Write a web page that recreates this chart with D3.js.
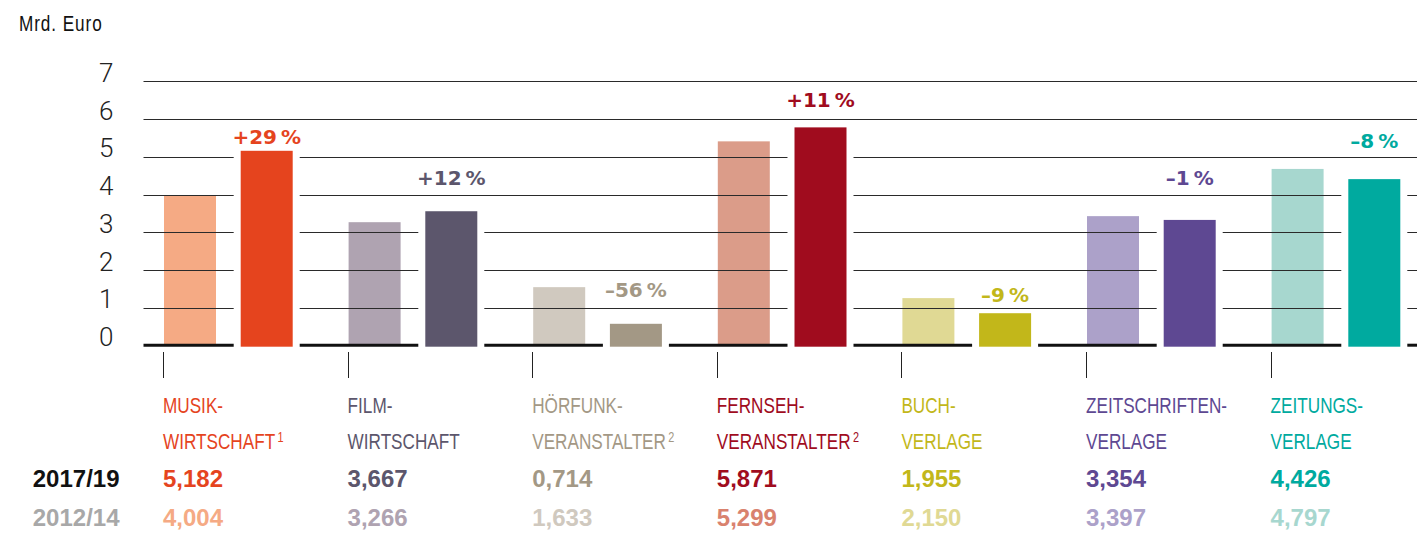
<!DOCTYPE html>
<html>
<head>
<meta charset="utf-8">
<script src="https://cdn.jsdelivr.net/npm/d3@7"></script>
<style>
  html, body { margin: 0; padding: 0; background: #fff; }
  svg { display: block; }
  .narrow { font-family: "Liberation Sans", Arial, sans-serif; }
  .tick { font-family: Roboto, "Liberation Sans", sans-serif; font-weight: 300; }
  .num { font-family: "Liberation Sans", Arial, sans-serif; font-weight: bold; }
  .pct { font-family: "DejaVu Sans", sans-serif; font-weight: bold; }
</style>
</head>
<body>
<svg id="chart" width="1417" height="534"></svg>
<script>
// ---- data ----
const categories = ["Musik", "Film", "Hörfunk", "Fernseh", "Buch", "Zeitschriften", "Zeitungen"];
const labelLine1 = ["MUSIK-", "FILM-", "HÖRFUNK-", "FERNSEH-", "BUCH-", "ZEITSCHRIFTEN-", "ZEITUNGS-"];
const labelLine2 = ["WIRTSCHAFT", "WIRTSCHAFT", "VERANSTALTER", "VERANSTALTER", "VERLAGE", "VERLAGE", "VERLAGE"];
const footnotes = ["1", "", "2", "2", "", "", ""];
const periods = ["2012/14", "2017/19"];
// printed values (Mrd. Euro)
const printed2017 = ["5,182", "3,667", "0,714", "5,871", "1,955", "3,354", "4,426"];
const printed2012 = ["4,004", "3,266", "1,633", "5,299", "2,150", "3,397", "4,797"];
// bar heights as drawn in the picture (Mrd. Euro)
const bars2012 = [3.99, 3.27, 1.55, 5.41, 1.26, 3.43, 4.68];
const bars2017 = [5.16, 3.56, 0.58, 5.78, 0.86, 3.33, 4.41];
const changeLabels = ["+29\u2009%", "+12\u2009%", "\u201356\u2009%", "+11\u2009%", "\u20139\u2009%", "\u20131\u2009%", "\u20138\u2009%"];
// level (Mrd. Euro) at which each change label sits in the picture
const changeLabelLevel = [5.34, 4.26, 1.30, 6.31, 1.17, 4.26, 5.23];
const yTicks = [0, 1, 2, 3, 4, 5, 6, 7];
const unitLabel = "Mrd. Euro";

// ---- styles ----
const lightColors = ["#F5AA84", "#AFA3B1", "#D0C9BF", "#DB9C89", "#E0D994", "#ACA1C9", "#A7D7CF"];
const darkColors  = ["#E5441E", "#5C566C", "#A39885", "#A00C1E", "#C2B71A", "#5E4892", "#00AA9F"];
const light2012Text = ["#F5AA84", "#AFA3B1", "#D0C9BF", "#D9826E", "#E0D994", "#ACA1C9", "#A7D7CF"];

const svg = d3.select("#chart");
const W = 1417;
const narrowScale = 0.78;

const y = d3.scaleLinear().domain([0, 7]).range([345.7, 81.3]);
const x = d3.scaleBand().domain(categories).range([164, 164 + 7 * 184.6]).paddingInner(0).paddingOuter(0);
const xSub = d3.scaleBand().domain(periods).range([0, 128.7]).paddingInner(0.322).paddingOuter(0);
const bw = xSub.bandwidth();

const rows = categories.map((c, i) => ({
  c, i,
  v12: bars2012[i], v17: bars2017[i]
}));

// light bars (2012/14)
svg.append("g").selectAll("rect").data(rows).join("rect")
  .attr("x", d => x(d.c) + xSub("2012/14"))
  .attr("y", d => y(d.v12))
  .attr("width", bw)
  .attr("height", d => y(0) - y(d.v12))
  .attr("fill", d => lightColors[d.i]);

// gridlines with gaps around the dark bars
const gridG = svg.append("g");
const gridLeft = 143.5, gridRight = W, pad = 7;
yTicks.forEach(t => {
  const gaps = rows.filter(d => t === 0 || d.v17 >= t)
    .map(d => [x(d.c) + xSub("2017/19") - pad, x(d.c) + xSub("2017/19") + bw + pad]);
  let start = gridLeft;
  const segs = [];
  gaps.forEach(g => { segs.push([start, g[0]]); start = g[1]; });
  segs.push([start, gridRight]);
  segs.forEach(s => {
    gridG.append("line")
      .attr("x1", s[0]).attr("x2", s[1])
      .attr("y1", t === 0 ? y(t) - 0.5 : Math.round(y(t)) + 0.5)
      .attr("y2", t === 0 ? y(t) - 0.5 : Math.round(y(t)) + 0.5)
      .attr("stroke", t === 0 ? "#111" : "#2a2a2a")
      .attr("stroke-width", t === 0 ? 3 : 1);
  });
});

// dark bars (2017/19)
svg.append("g").selectAll("rect").data(rows).join("rect")
  .attr("x", d => x(d.c) + xSub("2017/19"))
  .attr("y", d => y(d.v17))
  .attr("width", bw)
  .attr("height", d => y(0) - y(d.v17) + 1)
  .attr("fill", d => darkColors[d.i]);

// y tick labels
svg.append("g").selectAll("text").data(yTicks).join("text")
  .attr("class", "tick")
  .attr("x", 113.5)
  .attr("y", d => y(d) + 0.5)
  .attr("text-anchor", "end")
  .attr("font-size", 26)
  .attr("fill", "#222")
  .text(d => d);

// unit label (condensed)
svg.append("text").attr("class", "narrow")
  .attr("transform", `translate(19,31) scale(${narrowScale},1)`)
  .attr("font-size", 22).attr("letter-spacing", 1.2).attr("fill", "#111")
  .text(unitLabel);

// small ticks below baseline
svg.append("g").selectAll("line").data(rows).join("line")
  .attr("x1", d => Math.round(x(d.c)) - 0.5)
  .attr("x2", d => Math.round(x(d.c)) - 0.5)
  .attr("y1", 352).attr("y2", 378)
  .attr("stroke", "#222").attr("stroke-width", 1);

// change labels
svg.append("g").selectAll("text").data(rows).join("text")
  .attr("class", "pct")
  .attr("x", d => x(d.c) + xSub("2017/19") + bw / 2)
  .attr("y", d => y(changeLabelLevel[d.i]))
  .attr("text-anchor", "middle")
  .attr("font-size", 20)
  .attr("fill", d => darkColors[d.i])
  .text(d => changeLabels[d.i]);

// category labels
const catG = svg.append("g");
rows.forEach(d => {
  const gx = x(d.c) - 1;
  catG.append("text").attr("class", "narrow")
    .attr("transform", `translate(${gx},412.7) scale(${narrowScale},1)`)
    .attr("font-size", 22).attr("fill", darkColors[d.i])
    .text(labelLine1[d.i]);
  const t2 = catG.append("text").attr("class", "narrow")
    .attr("transform", `translate(${gx},449.3) scale(${narrowScale},1)`)
    .attr("font-size", 22).attr("fill", darkColors[d.i]);
  t2.append("tspan").text(labelLine2[d.i]);
  if (footnotes[d.i]) {
    t2.append("tspan").attr("font-size", 14).attr("dy", -7).attr("dx", 3).text(footnotes[d.i]);
  }
  catG.append("text").attr("class", "num")
    .attr("x", gx).attr("y", 487.3)
    .attr("font-size", 24).attr("fill", darkColors[d.i])
    .text(printed2017[d.i]);
  catG.append("text").attr("class", "num")
    .attr("x", gx).attr("y", 526)
    .attr("font-size", 24).attr("fill", light2012Text[d.i])
    .text(printed2012[d.i]);
});

// period labels
svg.append("text").attr("class", "num")
  .attr("x", 119.5).attr("y", 487.3).attr("text-anchor", "end")
  .attr("font-size", 24).attr("fill", "#111").text(periods[1]);
svg.append("text").attr("class", "num")
  .attr("x", 119.5).attr("y", 526).attr("text-anchor", "end")
  .attr("font-size", 24).attr("fill", "#A8A8A8").text(periods[0]);
</script>
</body>
</html>
